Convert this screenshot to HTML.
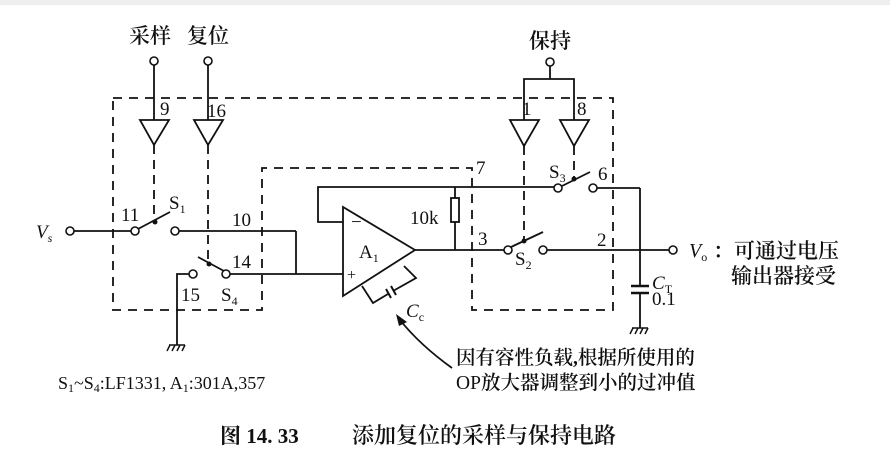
<!DOCTYPE html>
<html><head><meta charset="utf-8"><style>
html,body{margin:0;padding:0;background:#fff;}
svg{display:block;}
text{font-family:"Liberation Serif","Noto Serif CJK SC",serif;fill:#111;}
.cjk{font-family:"Liberation Serif","Noto Serif CJK SC",serif;font-weight:600;}
</style></head><body>
<svg width="890" height="470" viewBox="0 0 890 470" xmlns="http://www.w3.org/2000/svg">
<rect x="0" y="0" width="890" height="5" fill="#eee"/>
<g stroke="#111" stroke-width="1.8" fill="none">
<path d="M113,98 H613 V310 H472 V168 H262 V310 H113 Z" stroke-dasharray="9,7"/>
<line x1="154" y1="65" x2="154" y2="120"/>
<line x1="208" y1="65" x2="208" y2="120"/>
<polygon points="140,120 169,120 154,145"/>
<polygon points="194,120 223,120 208,145"/>
<line x1="154" y1="145" x2="154" y2="222" stroke-dasharray="9,6"/>
<line x1="208" y1="145" x2="208" y2="263" stroke-dasharray="9,6"/>
<line x1="550" y1="66" x2="550" y2="79"/>
<path d="M524,120 V79 H574 V120"/>
<polygon points="510,120 539,120 524,146"/>
<polygon points="560,120 589,120 574,146"/>
<line x1="524" y1="146" x2="524" y2="240" stroke-dasharray="9,6"/>
<line x1="574" y1="146" x2="574" y2="178" stroke-dasharray="9,6"/>
<line x1="74" y1="231" x2="131" y2="231"/>
<line x1="138" y1="229" x2="170" y2="212"/>
<line x1="179" y1="231" x2="296" y2="231"/>
<path d="M296,231 V274"/>
<line x1="198" y1="257" x2="224" y2="271"/>
<path d="M189,274 H177 V345"/>
<line x1="230" y1="274" x2="343" y2="274"/>
<polygon points="343,207 343,296 415,250"/>
<path d="M343,222 H318 V187 H554"/>
<line x1="597" y1="188" x2="640" y2="188"/>
<line x1="562" y1="186" x2="590" y2="172"/>
<line x1="455" y1="187" x2="455" y2="198"/>
<rect x="451" y="198" width="8" height="24"/>
<line x1="455" y1="222" x2="455" y2="250"/>
<line x1="415" y1="250" x2="504" y2="250"/>
<line x1="511" y1="247" x2="543" y2="232"/>
<line x1="547" y1="250" x2="669" y2="250"/>
<path d="M640,188 V286"/>
<line x1="631" y1="286" x2="649" y2="286" stroke-width="2.4"/>
<line x1="631" y1="293" x2="649" y2="293" stroke-width="2.4"/>
<line x1="640" y1="293" x2="640" y2="328"/>
<path d="M362,286 L373,303 L388,294"/>
<path d="M393,291 L416,278 L404,266"/>
<line x1="386" y1="289" x2="391" y2="298" stroke-width="2"/>
<line x1="391" y1="286" x2="396" y2="295" stroke-width="2"/>
<path d="M452,368 Q420,345 400,320"/>
</g>
<polygon points="396,314 407,322 399,326" fill="#111"/>
<g stroke="#111" stroke-width="1.5">
<line x1="169" y1="345" x2="185" y2="345"/>
<line x1="170" y1="345" x2="167" y2="351"/><line x1="175" y1="345" x2="172" y2="351"/><line x1="180" y1="345" x2="177" y2="351"/><line x1="185" y1="345" x2="182" y2="351"/>
<line x1="632" y1="328" x2="648" y2="328"/>
<line x1="633" y1="328" x2="630" y2="334"/><line x1="638" y1="328" x2="635" y2="334"/><line x1="643" y1="328" x2="640" y2="334"/><line x1="648" y1="328" x2="645" y2="334"/>
</g>
<g stroke="#111" stroke-width="1.6" fill="#fff">
<circle cx="154" cy="61" r="4"/><circle cx="208" cy="61" r="4"/><circle cx="550" cy="62" r="4"/>
<circle cx="70" cy="231" r="4"/><circle cx="135" cy="231" r="4"/><circle cx="175" cy="231" r="4"/>
<circle cx="193" cy="274" r="4"/><circle cx="226" cy="274" r="4"/>
<circle cx="558" cy="188" r="4"/><circle cx="593" cy="188" r="4"/>
<circle cx="508" cy="250" r="4"/><circle cx="543" cy="250" r="4"/>
<circle cx="673" cy="250" r="4"/>
</g>
<g fill="#111"><circle cx="155" cy="222" r="2.5"/><circle cx="209" cy="264" r="2.5"/><circle cx="524" cy="241" r="2.5"/><circle cx="574" cy="179" r="2.5"/></g>
<g font-size="19">
<text x="129" y="43" class="cjk" font-size="21">采样</text>
<text x="187" y="43" class="cjk" font-size="21">复位</text>
<text x="529" y="48" class="cjk" font-size="21">保持</text>
<text x="160" y="115">9</text>
<text x="207" y="117">16</text>
<text x="522" y="115">1</text>
<text x="577" y="115">8</text>
<text x="36" y="238" font-style="italic">V<tspan font-size="12" dy="4">s</tspan></text>
<text x="121" y="221">11</text>
<text x="169" y="209">S<tspan font-size="12" dy="4">1</tspan></text>
<text x="232" y="226">10</text>
<text x="232" y="268">14</text>
<text x="181" y="301">15</text>
<text x="221" y="301">S<tspan font-size="12" dy="4">4</tspan></text>
<text x="351" y="228">−</text>
<text x="347" y="280" font-size="16">+</text>
<text x="359" y="258">A<tspan font-size="12" dy="4">1</tspan></text>
<text x="410" y="224">10k</text>
<text x="476" y="174">7</text>
<text x="478" y="245">3</text>
<text x="549" y="178">S<tspan font-size="12" dy="4">3</tspan></text>
<text x="598" y="180">6</text>
<text x="515" y="265">S<tspan font-size="12" dy="4">2</tspan></text>
<text x="597" y="246">2</text>
<text x="406" y="317" font-style="italic">C<tspan font-size="12" dy="4" font-style="normal">c</tspan></text>
<text x="652" y="289" font-style="italic">C<tspan font-size="12" dy="4" font-style="normal">T</tspan></text>
<text x="652" y="305">0.1</text>
<text x="689" y="257" font-style="italic" font-size="20">V<tspan font-size="12" dy="4" font-style="normal">o</tspan></text>
<text x="713" y="258" class="cjk" font-size="21">：可通过电压</text>
<text x="731" y="283" class="cjk" font-size="21">输出器接受</text>
<text x="456" y="364" class="cjk" font-size="19.5">因有容性负载,根据所使用的</text>
<text x="456" y="389" class="cjk" font-size="19.5"><tspan font-weight="normal">OP</tspan>放大器调整到小的过冲值</text>
<text x="58" y="389" font-size="18">S<tspan font-size="12" dy="3">1</tspan><tspan dy="-3">~S</tspan><tspan font-size="12" dy="3">4</tspan><tspan dy="-3">:LF1331, A</tspan><tspan font-size="12" dy="3">1</tspan><tspan dy="-3">:301A,357</tspan></text>
<text x="220" y="443" font-weight="bold" font-size="21">图 14. 33</text>
<text x="352" y="443" class="cjk" font-size="22">添加复位的采样与保持电路</text>
</g>
</svg>
</body></html>
